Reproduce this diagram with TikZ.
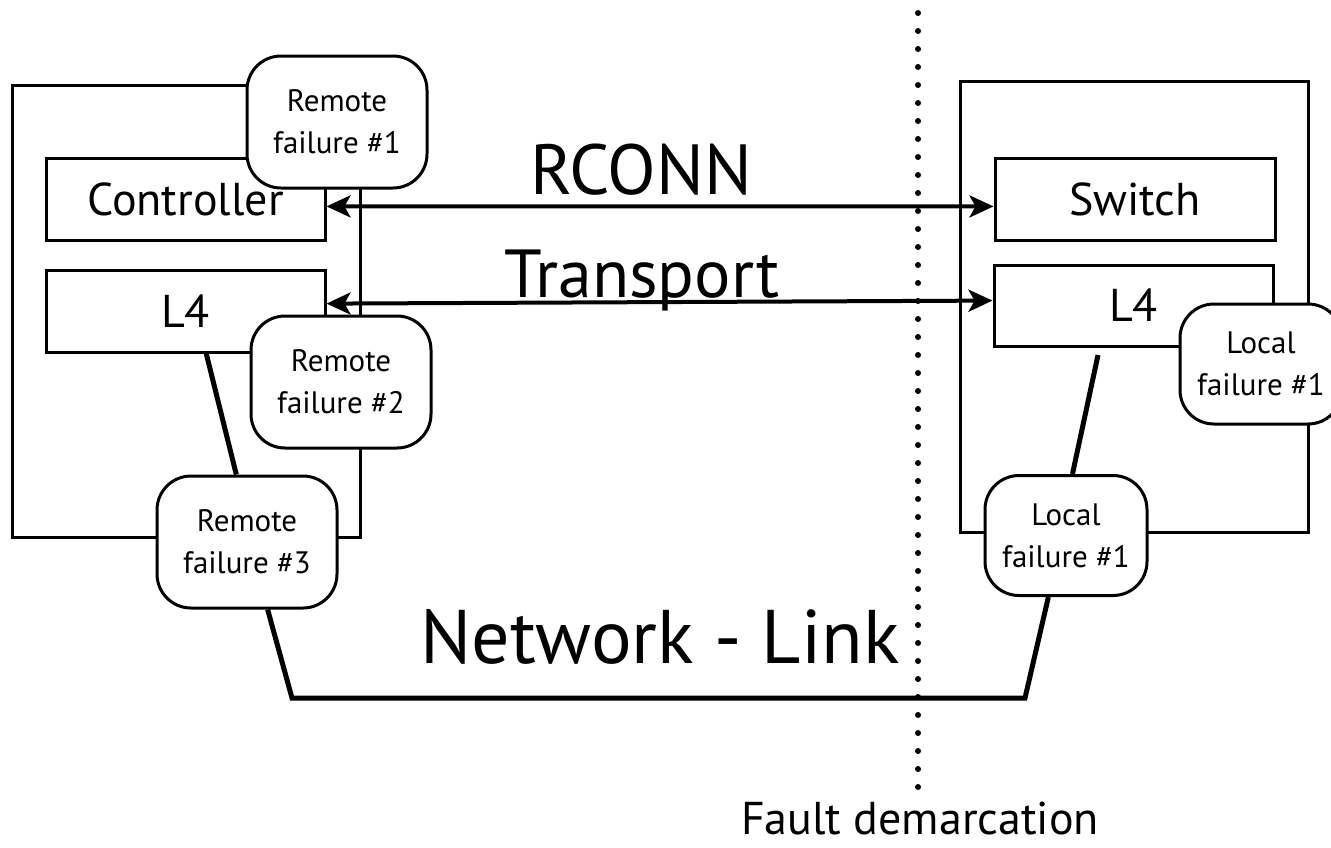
\documentclass[tikz,border=0pt]{standalone}
\usepackage{fontspec}
\setmainfont{PT Sans}
\usetikzlibrary{arrows.meta, positioning}

\begin{document}
\begin{tikzpicture}[x=0.5pt, y=-0.5pt,
    host/.style={draw, line width=1.5pt, inner sep=0pt,
                 minimum width=174pt, minimum height=226pt},
    layer/.style={draw, line width=1.5pt, inner sep=0pt,
                  minimum width=139.5pt, minimum height=41pt,
                  font=\fontsize{23}{27}\selectfont},
    fail/.style={draw, line width=1.5pt, fill=white, rounded corners=17pt,
                 align=center, inner sep=0pt,
                 font=\fontsize{15.5}{21}\selectfont},
    remote/.style={fail, minimum width=90pt, minimum height=66pt},
    local/.style={fail, minimum width=81pt, minimum height=60pt},
    proto/.style={line width=2pt, >={Stealth[length=12pt,width=11pt,inset=3pt]}, <->},
    link/.style={line width=2.5pt},
    big/.style={anchor=base, font=\fontsize{34}{40}\selectfont}]
  \useasboundingbox (0,0) rectangle (1331,847);

  % fault demarcation
  \coordinate (fdtop) at (918,13);
  \coordinate (fdbot) at (918,787);
  \draw[line width=3pt, line cap=round, dash pattern=on 0pt off 9pt] (fdtop) -- (fdbot);
  \node[anchor=base, inner sep=1pt, font=\fontsize{23}{27}\selectfont] (fault) at (920,834) {Fault demarcation};

  % hosts and layers
  \node[host] (lhost) at (186,311.5) {};
  \node[host, minimum height=225.5pt] (rhost) at (1134,306.5) {};
  \node[layer] (ctrl) at (185.5,199) {Controller};
  \node[layer] (l4a) at (185.5,311) {L4};
  \node[layer, minimum width=140pt] (sw) at (1135,199) {Switch};
  \node[layer, minimum height=40.5pt] (l4b) at (1133.5,305.5) {L4};

  \draw[proto] (ctrl.-3.7) -- (sw.183.7);
  \draw[proto] (l4a.3.7) -- (l4b.178.2);
  \node[big, font=\fontsize{35.5}{40}\selectfont] (rconn) at (641,194) {RCONN};
  \node[big] (transport) at (642,297) {Transport};
  \node[big, font=\fontsize{38}{44}\selectfont] (netlink) at (660,663) {Network - Link};

  % failures
  \node[remote] (rf1) at (337,122) {Remote\\failure \#1};
  \node[remote] (rf2) at (341,382) {Remote\\failure \#2};
  \node[remote] (rf3) at (247,542) {Remote\\failure \#3};
  \node[local] (lf1) at (1261,364) {Local\\failure \#1};
  \node[local] (lf2) at (1066,535.5) {Local\\failure \#1};

  % network link
  \coordinate (nl) at (292,698);
  \coordinate (nr) at (1025,698);
  \coordinate (l4bot) at (1098,355);
  \draw[link] (l4a.-64.6) -- (rf3.99.5);
  \draw[link] (rf3.-73) -- (nl) -- (nr) -- (lf2.-106.8);
  \draw[link] (lf2.84.2) -- (l4bot);
\end{tikzpicture}
\end{document}
